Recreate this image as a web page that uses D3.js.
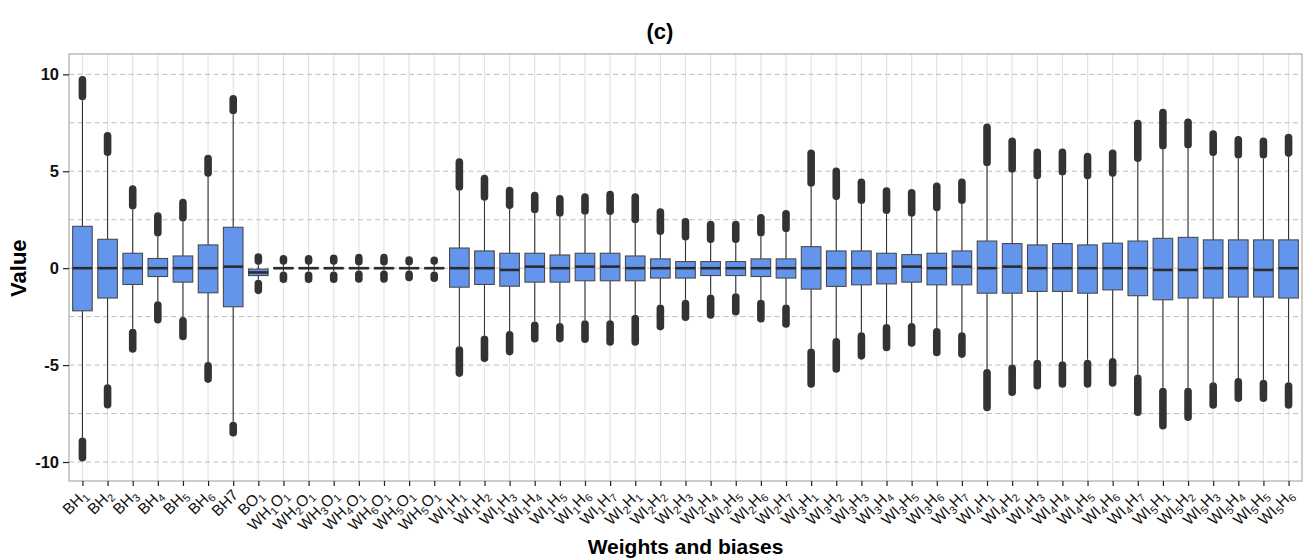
<!DOCTYPE html>
<html>
<head>
<meta charset="UTF-8">
<title>(c) Weights and biases</title>
<script src="https://d3js.org/d3.v7.min.js"></script>
<style>
  body { margin: 0; background: #fff; }
  text { font-family: "Liberation Sans", Arial, sans-serif; }
</style>
</head>
<body>
<div id="chart"></div>
<script>
// category labels, "_n" marks a subscript digit
var labels = ["BH_1", "BH_2", "BH_3", "BH_4", "BH_5", "BH_6", "BH7", "BO_1",
  "WH_1O_1", "WH_2O_1", "WH_3O_1", "WH_4O_1", "WH_6O_1", "WH_5O_1", "WH_5O_1",
  "WI_1H_1", "WI_1H_2", "WI_1H_3", "WI_1H_4", "WI_1H_5", "WI_1H_6", "WI_1H_7",
  "WI_2H_1", "WI_2H_2", "WI_2H_3", "WI_2H_4", "WI_2H_5", "WI_2H_6", "WI_2H_7",
  "WI_3H_1", "WI_3H_2", "WI_3H_3", "WI_3H_4", "WI_3H_5", "WI_3H_6", "WI_3H_7",
  "WI_4H_1", "WI_4H_2", "WI_4H_3", "WI_4H_4", "WI_4H_5", "WI_4H_6", "WI_4H_7",
  "WI_5H_1", "WI_5H_2", "WI_5H_3", "WI_5H_4", "WI_5H_5", "WI_5H_6"];

// box stats
var q1 = [-2.2, -1.54, -0.84, -0.43, -0.72, -1.27, -1.99, -0.38,
  -0.02, -0.02, -0.02, -0.02, -0.02, -0.02, -0.02,
  -0.98, -0.84, -0.93, -0.72, -0.72, -0.65, -0.65,
  -0.65, -0.51, -0.51, -0.38, -0.38, -0.43, -0.51,
  -1.08, -0.94, -0.86, -0.81, -0.72, -0.86, -0.86,
  -1.29, -1.29, -1.2, -1.2, -1.29, -1.12, -1.42,
  -1.63, -1.54, -1.54, -1.49, -1.49, -1.54];
var median = [0, 0, 0, 0, 0, 0, 0.08, -0.22,
  0, 0, 0, 0, 0, 0, 0,
  0, 0, -0.09, 0.08, 0, 0.08, 0.08,
  0, 0, 0, 0, 0, 0, 0,
  0, 0, 0, 0, 0.08, 0, 0.08,
  0, 0.08, 0, 0, 0, 0, 0,
  -0.09, -0.09, 0, 0, -0.09, 0];
var q3 = [2.16, 1.49, 0.77, 0.5, 0.63, 1.2, 2.11, -0.05,
  0.02, 0.02, 0.02, 0.02, 0.02, 0.02, 0.02,
  1.04, 0.89, 0.77, 0.77, 0.68, 0.77, 0.77,
  0.63, 0.48, 0.34, 0.34, 0.34, 0.48, 0.48,
  1.11, 0.89, 0.89, 0.77, 0.7, 0.77, 0.89,
  1.4, 1.27, 1.2, 1.27, 1.2, 1.29, 1.4,
  1.54, 1.59, 1.46, 1.46, 1.46, 1.46];
// upper outliers: from (whisker end) .. to (max)
var hiFrom = [8.66, 5.79, 3.03, 1.63, 2.4, 4.71, 7.94, 0.17,
  0.17, 0.17, 0.17, 0.14, 0.14, 0.14, 0.17,
  3.99, 3.48, 3.05, 2.83, 2.65, 2.76, 2.74,
  2.31, 1.71, 1.42, 1.29, 1.29, 1.63, 1.85,
  4.2, 3.51, 3.31, 2.79, 2.65, 2.93, 3.31,
  5.26, 4.92, 4.58, 4.78, 4.58, 4.71, 5.48,
  6.12, 6.17, 5.78, 5.66, 5.66, 5.74];
var hiTo = [9.91, 7.03, 4.28, 2.88, 3.58, 5.85, 8.93, 0.77,
  0.68, 0.68, 0.71, 0.74, 0.74, 0.62, 0.6,
  5.67, 4.82, 4.2, 3.94, 3.77, 3.86, 3.99,
  3.86, 3.09, 2.59, 2.45, 2.45, 2.79, 3.0,
  6.12, 5.2, 4.63, 4.17, 4.08, 4.42, 4.63,
  7.46, 6.74, 6.17, 6.17, 5.95, 6.12, 7.66,
  8.23, 7.72, 7.11, 6.82, 6.74, 6.94];
// lower outliers: from (whisker end) .. to (min)
var loFrom = [-8.73, -5.99, -3.12, -1.7, -2.52, -4.84, -7.92, -0.6,
  -0.17, -0.17, -0.17, -0.12, -0.12, -0.12, -0.17,
  -4.03, -3.47, -3.24, -2.75, -2.83, -2.69, -2.69,
  -2.4, -1.87, -1.63, -1.36, -1.29, -1.63, -1.87,
  -4.15, -3.6, -3.31, -2.88, -2.83, -3.09, -3.31,
  -5.2, -4.97, -4.72, -4.8, -4.72, -4.63, -5.49,
  -6.17, -6.17, -5.88, -5.66, -5.75, -5.88];
var loTo = [-9.98, -7.24, -4.36, -2.86, -3.72, -5.92, -8.69, -1.34,
  -0.77, -0.77, -0.77, -0.75, -0.75, -0.68, -0.71,
  -5.61, -4.84, -4.5, -3.84, -3.83, -3.86, -4.0,
  -4.0, -3.21, -2.73, -2.61, -2.44, -2.8, -3.07,
  -6.17, -5.4, -4.72, -4.29, -4.06, -4.55, -4.63,
  -7.38, -6.6, -6.26, -6.17, -6.17, -6.12, -7.63,
  -8.32, -7.89, -7.25, -6.91, -6.91, -7.25];

var yTicks = [-10, -5, 0, 5, 10];
var yMinor = [-7.5, -2.5, 2.5, 7.5];

var W = 1307, H = 559;
var margin = { top: 54, right: 5, bottom: 78, left: 69 };
var pw = W - margin.left - margin.right,
    ph = H - margin.top - margin.bottom;

var svg = d3.select("#chart").append("svg")
  .attr("width", W).attr("height", H);

var data = labels.map(function (l, i) {
  return { i: i, label: l, q1: q1[i], med: median[i], q3: q3[i],
    hiFrom: hiFrom[i], hiTo: hiTo[i], loFrom: loFrom[i], loTo: loTo[i] };
});

var x = d3.scalePoint()
  .domain(d3.range(labels.length))
  .range([0, pw])
  .padding(0.535);
var y = d3.scaleLinear()
  .domain([-10.98, 11.05])
  .range([ph, 0]);

var g = svg.append("g")
  .attr("transform", "translate(" + margin.left + "," + margin.top + ")");

// vertical grid
g.selectAll(".vgrid").data(data).enter().append("line")
  .attr("x1", function (d) { return x(d.i); })
  .attr("x2", function (d) { return x(d.i); })
  .attr("y1", 0).attr("y2", ph)
  .attr("stroke", "#e3e3e3").attr("stroke-width", 1.2);

// horizontal dashed grid
g.selectAll(".hgrid").data(yTicks.concat(yMinor)).enter().append("line")
  .attr("x1", 0).attr("x2", pw)
  .attr("y1", function (d) { return y(d); })
  .attr("y2", function (d) { return y(d); })
  .attr("stroke", "#bdbdbd").attr("stroke-width", 1)
  .attr("stroke-dasharray", "5,3.5");

var bw = x.step() * 0.78;
var r = 3.8;

var box = g.selectAll(".box").data(data).enter().append("g")
  .attr("transform", function (d) { return "translate(" + x(d.i) + ",0)"; });

// whiskers
box.append("line")
  .attr("y1", function (d) { return y(d.q3); })
  .attr("y2", function (d) { return y(d.hiFrom); })
  .attr("stroke", "#333").attr("stroke-width", 1.1);
box.append("line")
  .attr("y1", function (d) { return y(d.q1); })
  .attr("y2", function (d) { return y(d.loFrom); })
  .attr("stroke", "#333").attr("stroke-width", 1.1);

// outlier clouds
function cloud(a, b) {
  return function (sel) {
    sel.attr("y1", function (d) { return y(d[a]) - r * Math.sign(d[a] - d[b] || 1) * -1; })
      .attr("y2", function (d) { return y(d[b]) + r * Math.sign(d[b] - d[a] || 1); });
  };
}
box.append("line").call(cloud("hiFrom", "hiTo"))
  .attr("stroke", "#333").attr("stroke-width", 2 * r).attr("stroke-linecap", "round");
box.append("line").call(cloud("loFrom", "loTo"))
  .attr("stroke", "#333").attr("stroke-width", 2 * r).attr("stroke-linecap", "round");

// boxes
box.append("rect")
  .attr("x", -bw / 2).attr("width", bw)
  .attr("y", function (d) { return y(d.q3); })
  .attr("height", function (d) { return Math.max(0.5, y(d.q1) - y(d.q3)); })
  .attr("fill", "#6495ed").attr("stroke", "#4a4a4a").attr("stroke-width", 1.1);
box.append("line")
  .attr("x1", -bw / 2).attr("x2", bw / 2)
  .attr("y1", function (d) { return y(d.med); })
  .attr("y2", function (d) { return y(d.med); })
  .attr("stroke", "#2b2b2b").attr("stroke-width", 2.6);

// panel border
g.append("rect").attr("width", pw).attr("height", ph)
  .attr("fill", "none").attr("stroke", "#9a9a9a").attr("stroke-width", 1);

// y axis
var ya = g.append("g").call(d3.axisLeft(y).tickValues(yTicks).tickSize(6).tickSizeOuter(0)
  .tickFormat(function (d) { return String(d); }));
ya.select(".domain").remove();
ya.selectAll(".tick line").attr("stroke", "#222").attr("stroke-width", 1.2);
ya.selectAll(".tick text").attr("font-size", 16.5).attr("font-weight", "bold")
  .attr("fill", "#111").attr("x", -10)
  .style("font-family", "'Liberation Sans', Arial, sans-serif");

// x axis
var xa = g.append("g").attr("transform", "translate(0," + ph + ")")
  .call(d3.axisBottom(x).tickSize(5).tickSizeOuter(0).tickFormat(""));
xa.select(".domain").remove();
xa.selectAll(".tick line").attr("stroke", "#222").attr("stroke-width", 1.2);

var xl = g.selectAll(".xl").data(data).enter().append("text")
  .attr("transform", function (d) {
    return "translate(" + (x(d.i) + 6) + "," + (ph + 15) + ") rotate(-45)";
  })
  .attr("text-anchor", "end")
  .attr("font-size", 15.5)
  .attr("fill", "#111");
xl.each(function (d) {
  var t = d3.select(this);
  var parts = d.label.split(/_(\d)/);
  parts.forEach(function (p, k) {
    if (p === "") return;
    if (k % 2 === 1) {
      t.append("tspan").attr("font-size", 11).attr("dy", 3.5).text(p);
      t.append("tspan").attr("dy", -3.5).text("\u200b");
    } else {
      t.append("tspan").text(p);
    }
  });
});

// titles
svg.append("text").attr("x", 660).attr("y", 39)
  .attr("text-anchor", "middle").attr("font-size", 22).attr("font-weight", "bold")
  .text("(c)");
svg.append("text")
  .attr("x", margin.left + pw / 2).attr("y", 554)
  .attr("text-anchor", "middle").attr("font-size", 21).attr("font-weight", "bold")
  .text("Weights and biases");
svg.append("text")
  .attr("transform", "translate(26," + (margin.top + y(0)) + ") rotate(-90)")
  .attr("text-anchor", "middle").attr("font-size", 22).attr("font-weight", "bold")
  .text("Value");
</script>
</body>
</html>
